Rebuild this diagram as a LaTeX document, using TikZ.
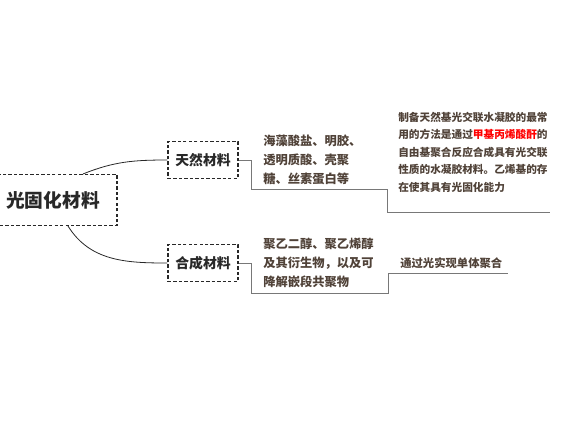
\documentclass[tikz,border=0pt]{standalone}
\usepackage{fontspec}
\newfontfamily\cjk{Noto Sans CJK SC}
\usetikzlibrary{positioning}
\definecolor{inkbrown}{RGB}{80,66,56}
\definecolor{inkdark}{RGB}{40,40,40}
\definecolor{linegray}{RGB}{120,120,120}
\tikzset{
    rootnode/.style = {rectangle, dash pattern=on 2.5pt off 1.6pt, thick, draw=inkdark, align=center, minimum width=96pt, minimum height=38.25pt, font=\cjk\bfseries\fontsize{14}{16}\selectfont, text=inkdark},
    topicnode/.style = {rectangle, dash pattern=on 2.5pt off 1.6pt, thick, draw=inkdark, align=center, minimum width=52.5pt, minimum height=27.75pt, inner sep=0pt, font=\cjk\bfseries\fontsize{10.4}{12}\selectfont, text=inkdark},
    leafnode/.style = {align=left, inner sep=0pt, anchor=west, font=\cjk\bfseries\fontsize{9.2}{14.25}\selectfont, text=inkbrown},
    notenode/.style = {align=left, inner sep=0pt, anchor=west, font=\cjk\bfseries\fontsize{8}{13.1}\selectfont, text=inkbrown},
    edgec/.style = {-, semithick, inkdark}, % curves
    edgeb/.style = {-, semithick, linegray} % brackets
}
\begin{document}
\begin{tikzpicture}[x=0.75pt,y=-0.75pt]
\useasboundingbox (0,0) rectangle (566,433);
\node[rootnode] at ( 53.00, 200.00) (root) {光固化材料};
\node[topicnode] at (203.00, 160.00) (nat) {天然材料};
\node[topicnode] at (203.00, 263.00) (syn) {合成材料};
\node[leafnode] at (263.00, 160.00) (natdesc) {海藻酸盐、明胶、\\透明质酸、壳聚\\糖、丝素蛋白等};
\node[leafnode] at (263.00, 263.00) (syndesc) {聚乙二醇、聚乙烯醇\\及其衍生物，以及可\\降解嵌段共聚物};
\node[notenode] at (398.00, 152.00) (natnote) {制备天然基光交联水凝胶的最常\\用的方法是通过{\color{red}甲基丙烯酸酐}的\\自由基聚合反应合成具有光交联\\性质的水凝胶材料。乙烯基的存\\在使其具有光固化能力};
\node[notenode, font=\cjk\bfseries\fontsize{8.5}{12}\selectfont] at (400.00, 263.00) (synnote) {通过光实现单体聚合};
\coordinate (natk) at (251, 189);
\coordinate (natb) at (387, 212);
\coordinate (nate) at (550, 212);
\coordinate (synk) at (251, 293);
\coordinate (synb) at (388, 273);
\coordinate (syne) at (508, 273);
\draw[edgec] ([xshift=22.5pt]root.north) to[out=22,in=180] (nat.west);
\draw[edgec] ([xshift=11.25pt]root.south) to[out=-58,in=180] (syn.west);
\draw[edgeb] (nat.east) -| (natk) -| (natb) -- (nate);
\draw[edgeb] (syn.east) -| (synk) -| (synb) -- (syne);
\end{tikzpicture}
\end{document}
